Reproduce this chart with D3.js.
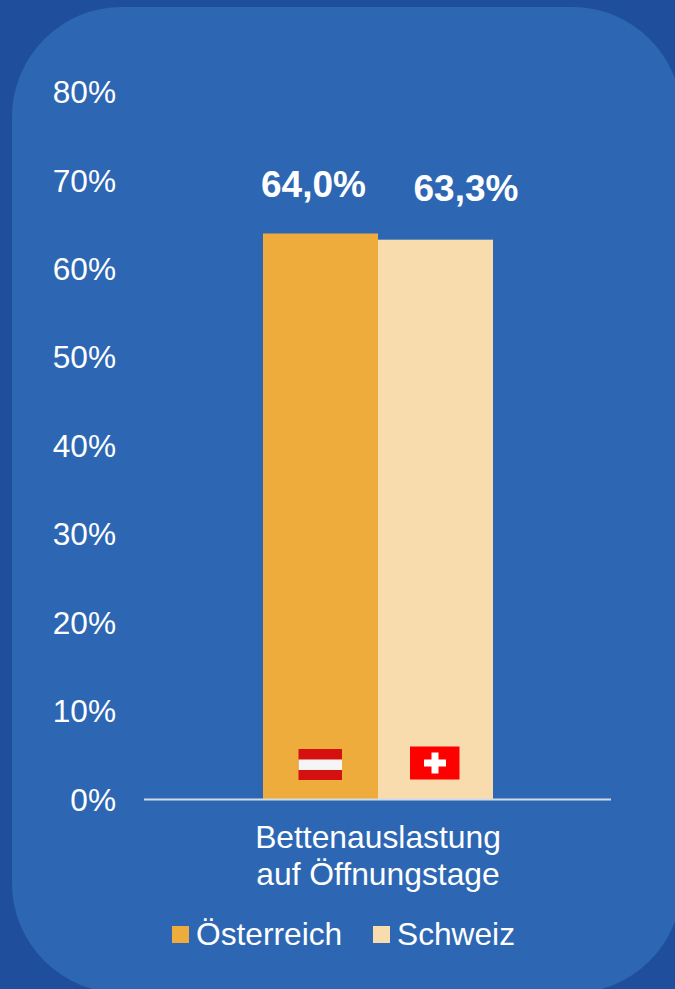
<!DOCTYPE html>
<html>
<head>
<meta charset="utf-8">
<style>
html, body { margin: 0; padding: 0; background: #1f4e9c; overflow: hidden; }
svg { display: block; font-family: "Liberation Sans", Arial, sans-serif; }
</style>
</head>
<body>
<svg width="675" height="989"></svg>
<script src="https://d3js.org/d3.v7.min.js"></script>
<script>

var countries = ["Österreich", "Schweiz"];
var values = [64.0, 63.3];
var valueLabels = ["64,0%", "63,3%"];
var colors = ["#eeac3c", "#f8dcae"];
var ticks = [0, 10, 20, 30, 40, 50, 60, 70, 80];
var categoryLines = ["Bettenauslastung", "auf Öffnungstage"];

var svg = d3.select("svg");

// background panel
svg.append("rect")
    .attr("width", 675).attr("height", 989)
    .attr("fill", "#1f4e9c");
svg.append("rect")
    .attr("x", 12).attr("y", 7)
    .attr("width", 670).attr("height", 986)
    .attr("rx", 110).attr("ry", 110)
    .attr("fill", "#2d67b4");

var y = d3.scaleLinear().domain([0, 80]).range([799.5, 92]);
var x = d3.scaleBand().domain(countries).range([263, 493]);

// y axis, labels only
var yAxis = d3.axisLeft(y)
    .tickValues(ticks)
    .tickSize(0)
    .tickPadding(0)
    .tickFormat(function(d) { return d + "%"; });

var yg = svg.append("g")
    .attr("transform", "translate(116,-0.5)")
    .call(yAxis);
yg.select(".domain").remove();
yg.selectAll("text")
    .attr("fill", "#fff")
    .attr("font-size", 31.6)
    .attr("font-family", "Liberation Sans, Arial, sans-serif")
    .attr("dy", "0.35em");

// bars
svg.selectAll("rect.bar")
    .data(countries)
  .enter().append("rect")
    .attr("class", "bar")
    .attr("x", function(d) { return x(d); })
    .attr("width", x.bandwidth())
    .attr("y", function(d, i) { return y(values[i]); })
    .attr("height", function(d, i) { return y(0) - y(values[i]); })
    .attr("fill", function(d, i) { return colors[i]; });

// baseline
svg.append("line")
    .attr("x1", 144).attr("x2", 611)
    .attr("y1", y(0)).attr("y2", y(0))
    .attr("stroke", "#d3d9e6")
    .attr("stroke-width", 2);

// value labels
svg.selectAll("text.val")
    .data(countries)
  .enter().append("text")
    .attr("class", "val")
    .attr("x", function(d, i) { return i == 0 ? 313.5 : 466; })
    .attr("y", function(d, i) { return i == 0 ? 197 : 201; })
    .attr("text-anchor", "middle")
    .attr("fill", "#fff")
    .attr("font-size", 37)
    .attr("font-weight", "bold")
    .text(function(d, i) { return valueLabels[i]; });

// category label
svg.selectAll("text.cat")
    .data(categoryLines)
  .enter().append("text")
    .attr("class", "cat")
    .attr("x", 378)
    .attr("y", function(d, i) { return 848 + i * 37; })
    .attr("text-anchor", "middle")
    .attr("fill", "#fff")
    .attr("font-size", 31.8)
    .text(function(d) { return d; });

// legend
var legendX = [172, 373];
var legend = svg.selectAll("g.legend")
    .data(countries)
  .enter().append("g")
    .attr("class", "legend")
    .attr("transform", function(d, i) { return "translate(" + legendX[i] + ",926)"; });
legend.append("rect")
    .attr("width", 17).attr("height", 17)
    .attr("fill", function(d, i) { return colors[i]; });
legend.append("text")
    .attr("x", 24)
    .attr("y", 19)
    .attr("fill", "#fff")
    .attr("font-size", 31.7)
    .text(function(d) { return d; });

// flag of Austria
var at = svg.append("g").attr("transform", "translate(298.5,749)");
at.append("rect").attr("width", 43.5).attr("height", 31).attr("fill", "#d5110f");
at.append("rect").attr("y", 10.5).attr("width", 43.5).attr("height", 10.5).attr("fill", "#f5f5f5");

// flag of Switzerland
var ch = svg.append("g").attr("transform", "translate(410,746.5)");
ch.append("rect").attr("width", 49.5).attr("height", 33).attr("fill", "#ff0000");
ch.append("rect").attr("x", 14).attr("y", 13).attr("width", 22).attr("height", 7).attr("fill", "#fff");
ch.append("rect").attr("x", 21.5).attr("y", 6).attr("width", 7).attr("height", 21).attr("fill", "#fff");

</script>
</body>
</html>
